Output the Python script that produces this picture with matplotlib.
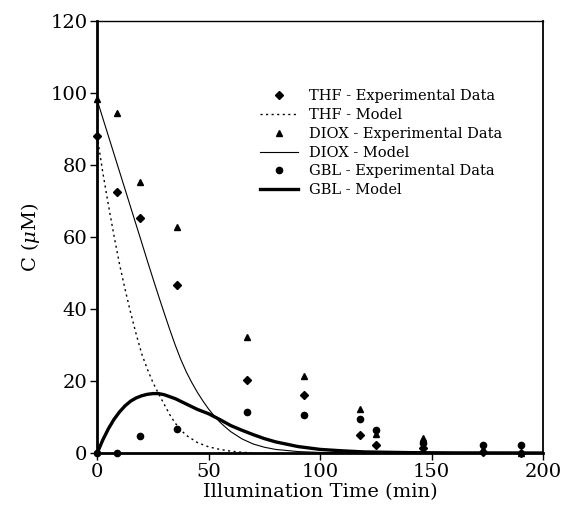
# Photocatalytic degradation: THF, DIOX and GBL concentration vs illumination time

import numpy as np
import matplotlib
matplotlib.use("Agg")
import matplotlib.pyplot as plt

plt.rcParams['font.family'] = ['DejaVu Serif']
plt.rcParams['mathtext.fontset'] = 'dejavuserif'

t_exp = [0, 9, 19, 36, 67, 93, 118, 125, 146, 173, 190]
thf_exp = [88, 72.5, 65.4, 46.7, 20.3, 16.2, 5.1, 2.1, 1.4, 0.4, 0.0]
diox_exp = [98.2, 94.5, 75.4, 62.9, 32.1, 21.3, 12.2, 5.2, 4.2, 1.2, 0.0]
gbl_exp = [0.0, 0.0, 4.6, 6.8, 11.3, 10.6, 9.5, 6.5, 2.9, 2.1, 2.1]

# Model curves
t_thf_mod = [0, 2.5, 5, 7.5, 10, 12.5, 15, 17.5, 20, 22.5, 25, 27.5, 30, 32.5, 35,
             37.5, 40, 45, 50, 55, 60, 65, 70]
thf_mod = [88, 78, 69, 60.5, 52.5, 45.5, 39, 33, 27.5, 23.3, 19.6, 16.5, 13.6,
           10.7, 8.3, 6.4, 4.9, 2.9, 1.7, 1.0, 0.5, 0.2, 0.0]

t_diox_mod = [0, 5, 10, 15, 20, 22.5, 25, 27.5, 30, 32.5, 35, 37.5, 40, 42.5, 45,
              47.5, 50, 52.5, 55, 57.5, 60, 65, 70, 75, 80, 90, 100, 120]
diox_mod = [98, 88.1, 78.2, 68.3, 58.4, 53.4, 48.5, 43.7, 39.0, 34.4, 30.0, 26.0,
            22.5, 19.5, 16.8, 14.4, 12.2, 10.3, 8.6, 7.2, 5.9, 3.9, 2.5, 1.6, 1.0,
            0.4, 0.15, 0.0]

t_gbl_mod = [0, 2.5, 5, 7.5, 10, 12.5, 15, 17.5, 20, 22.5, 25, 27.5, 30, 35, 40,
             45, 50, 55, 60, 65, 70, 75, 80, 90, 100, 110, 120, 140, 160, 200]
gbl_mod = [0, 3.6, 6.7, 9.3, 11.4, 13.1, 14.4, 15.3, 15.9, 16.3, 16.5, 16.5, 16.2,
           15.1, 13.6, 12.1, 10.9, 9.3, 7.6, 6.3, 5.1, 4.0, 3.1, 1.8, 1.0, 0.6,
           0.3, 0.1, 0.03, 0.0]

fig = plt.figure(figsize=(5.65, 5.11), dpi=100)
ax = fig.add_axes([0.172, 0.1135, 0.789, 0.8455])

ax.plot(t_exp, thf_exp, 'D', color='black', ms=4, ls='none',
        label='THF - Experimental Data', clip_on=False, zorder=5)
ax.plot(t_thf_mod, thf_mod, color='black', lw=1.0, ls=(0, (1.5, 2.5)),
        label='THF - Model')
ax.plot(t_exp, diox_exp, '^', color='black', ms=5, ls='none',
        label='DIOX - Experimental Data', clip_on=False, zorder=5)
ax.plot(t_diox_mod, diox_mod, color='black', lw=0.8, label='DIOX - Model')
ax.plot(t_exp, gbl_exp, 'o', color='black', ms=4.5, ls='none',
        label='GBL - Experimental Data', clip_on=False, zorder=5)
ax.plot(t_gbl_mod, gbl_mod, color='black', lw=2.4, label='GBL - Model')

ax.set_xlim(0, 200)
ax.set_ylim(0, 120)
ax.set_xticks([0, 50, 100, 150, 200])
ax.set_yticks([0, 20, 40, 60, 80, 100, 120])
ax.tick_params(direction='out', length=5, width=1, labelsize=14, pad=2,
               top=False, right=False)

ax.spines['left'].set_linewidth(2)
ax.spines['bottom'].set_linewidth(2)
ax.spines['top'].set_linewidth(1)
ax.spines['right'].set_linewidth(1.3)

ax.set_xlabel('Illumination Time (min)', fontsize=14, labelpad=2)
ax.set_ylabel(r'C ($\mu$M)', fontsize=14, labelpad=6)

ax.legend(loc='upper left', bbox_to_anchor=(0.365, 0.842), frameon=False,
          fontsize=10.5, handlelength=2.6, handletextpad=0.8, labelspacing=0.33,
          borderpad=0, borderaxespad=0)

fig.savefig('out.png', dpi=100)
